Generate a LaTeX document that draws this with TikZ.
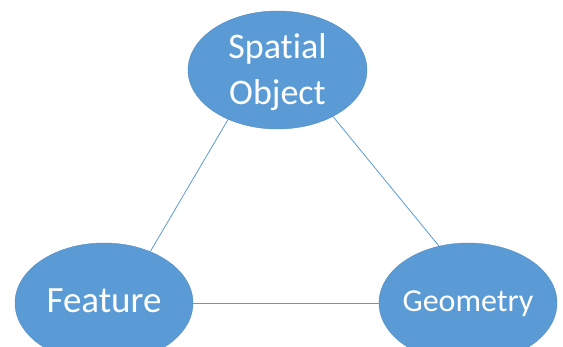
\documentclass[tikz,border=0pt]{standalone}
\usepackage{fontspec}
\setmainfont{Carlito}[Ligatures=NoCommon]
\usetikzlibrary{shapes.geometric}
\definecolor{obl}{HTML}{5B9BD5}
\tikzset{
  blob/.style={ellipse, fill=obl, draw=obl!90!black, line width=0.4pt, inner sep=0pt},
  lbl/.style={text=white, align=center, inner sep=0pt},
  link/.style={draw=obl, line width=0.8pt}
}
\begin{document}
\begin{tikzpicture}[x=1pt,y=-1pt]
\useasboundingbox (0,0) rectangle (563,347);
\node[blob, minimum width=179pt, minimum height=118pt] (so) at (277.5,70) {};
\node[blob, minimum width=178pt, minimum height=120pt] (fe) at (104,303) {};
\node[blob, minimum width=178pt, minimum height=120pt] (ge) at (468,303) {};
\node[lbl, font=\fontsize{36}{46}\selectfont] (sot) at (277.5,72) {Spatial\\Object};
\node[lbl, font=\fontsize{37}{42}\selectfont] (fet) at (104,301) {Feature};
\node[lbl, font=\fontsize{32}{38}\selectfont] (get) at (468,304) {Geometry};
\draw[link] (so.225) -- (fe.48);
\draw[link] (so.320) -- (ge.117);
\draw[link] (fe.east) -- (ge.west);
\end{tikzpicture}
\end{document}
